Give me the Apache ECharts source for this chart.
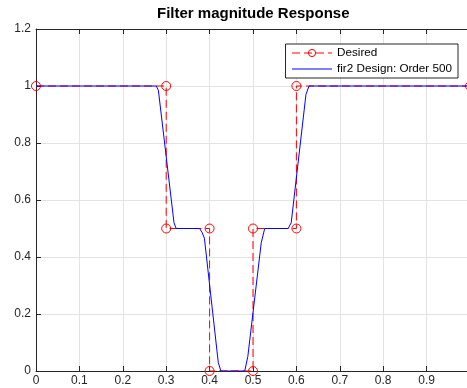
<!DOCTYPE html>
<html>
<head>
<meta charset="utf-8">
<script src="https://cdn.jsdelivr.net/npm/echarts@6/dist/echarts.min.js"></script>
<style>
  html, body { margin: 0; padding: 0; background: #fff; }
  #chart { width: 467px; height: 388px; }
</style>
</head>
<body>
<div id="chart"></div>
<script>
// desired response (frequency, amplitude)
const desiredF = [0, 0.3, 0.3, 0.4, 0.4, 0.5, 0.5, 0.6, 0.6, 1]
const desiredA = [1, 1, 0.5, 0.5, 0, 0, 0.5, 0.5, 1, 1]

// fir2 design response
const designF = [0, 0.277, 0.282, 0.318, 0.323, 0.377, 0.383, 0.388, 0.420, 0.426,
	0.481, 0.488, 0.519, 0.527, 0.581, 0.588, 0.622, 0.629, 1]
const designA = [1, 1, 0.985, 0.52, 0.5, 0.5, 0.485, 0.466, 0.03, 0,
	0, 0.05, 0.45, 0.5, 0.5, 0.52, 0.97, 1, 1]

const seriesNames = ['Desired', 'fir2 Design: Order 500']
const chartTitle = 'Filter magnitude Response'

const font = 'Liberation Sans, Arial, sans-serif'
const axisColor = '#262626'
const gridColor = '#e3e3e3'

const chart = echarts.init(document.getElementById('chart'))

chart.setOption({
	animation: false,
	title: {
		text: chartTitle,
		left: 157,
		top: 6,
		padding: 0,
		textStyle: { fontFamily: font, fontSize: 15, fontWeight: 'bold', color: '#000' }
	},
	grid: { left: 36, right: -3, top: 29, bottom: 17, containLabel: false, outerBoundsMode: 'none' },
	legend: {
		orient: 'vertical',
		right: 9,
		top: 44,
		itemWidth: 40,
		itemHeight: 9,
		itemGap: 4,
		padding: [3, 6, 3, 6],
		backgroundColor: '#fff',
		borderColor: axisColor,
		borderWidth: 1,
		borderRadius: 0,
		textStyle: { fontFamily: font, fontSize: 11.7, color: '#000' },
		data: [
			{
				name: seriesNames[0],
				lineStyle: { width: 1 },
				itemStyle: { color: 'rgba(255,255,255,0)', borderColor: '#ff0000', borderWidth: 1 }
			},
			{ name: seriesNames[1], lineStyle: { width: 1 }, itemStyle: { opacity: 0 } }
		]
	},
	xAxis: [{
		type: 'value',
		min: 0,
		max: 1,
		interval: 0.1,
		axisLine: { lineStyle: { color: axisColor } },
		axisTick: { inside: true, length: 5, lineStyle: { color: axisColor } },
		axisLabel: { fontFamily: font, fontSize: 12, color: axisColor, margin: 4, showMaxLabel: true },
		splitLine: { show: true, lineStyle: { color: gridColor } }
	}, {
		type: 'value',
		position: 'top',
		min: 0,
		max: 1,
		interval: 0.1,
		axisLine: { lineStyle: { color: axisColor } },
		axisTick: { inside: true, length: 5, lineStyle: { color: axisColor } },
		axisLabel: { show: false },
		splitLine: { show: false }
	}],
	yAxis: {
		type: 'value',
		min: 0,
		max: 1.2,
		interval: 0.2,
		axisLine: { show: true, lineStyle: { color: axisColor } },
		axisTick: { show: true, inside: true, length: 5, lineStyle: { color: axisColor } },
		axisLabel: { fontFamily: font, fontSize: 12, color: axisColor, margin: 5 },
		splitLine: { show: true, lineStyle: { color: gridColor } }
	},
	series: [{
		name: seriesNames[0],
		type: 'line',
		data: desiredF.map((f, i) => [f, desiredA[i]]),
		symbol: 'circle',
		symbolSize: 9,
		showAllSymbol: true,
		lineStyle: { color: '#ff0000', width: 1, type: [8, 4] },
		itemStyle: { color: 'rgba(255,255,255,0)', borderColor: '#ff0000', borderWidth: 1 },
		z: 2
	}, {
		name: seriesNames[1],
		type: 'line',
		data: designF.map((f, i) => [f, designA[i]]),
		symbol: 'none',
		lineStyle: { color: '#0000ff', width: 1 },
		itemStyle: { color: '#0000ff' },
		z: 3
	}]
})
</script>
</body>
</html>
